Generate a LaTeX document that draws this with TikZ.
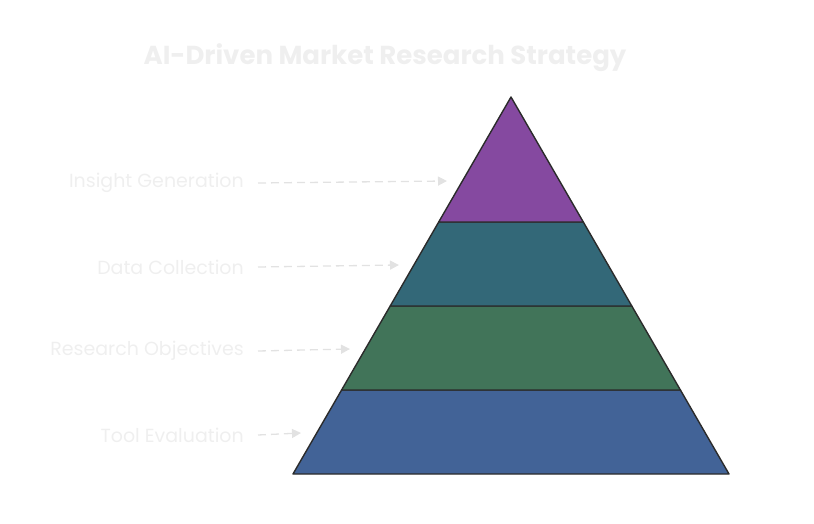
\documentclass[tikz,border=0pt]{standalone}
\usepackage{fontspec}
\setmainfont{Poppins}
\usetikzlibrary{arrows.meta}
\definecolor{faint-text}{HTML}{EFEFEF}
\definecolor{faint-line}{HTML}{E2E2E2}
\definecolor{edge-dark}{HTML}{2B2B2B}
\definecolor{tier-top}{HTML}{8549A0}
\definecolor{tier-two}{HTML}{336878}
\definecolor{tier-three}{HTML}{417459}
\definecolor{tier-base}{HTML}{426397}

\begin{document}
\begin{tikzpicture}[x=1pt, y=-1pt,
      every node/.style={font=\fontsize{19}{22}\selectfont, text=faint-text},
      tierlabel/.style={anchor=east, inner sep=0pt},
      tier/.style={draw=edge-dark, line width=1.4pt, line join=round},
      pointer/.style={draw=faint-line, line width=1.3pt, dash pattern=on 8pt off 5pt,
                      -{Triangle[length=9pt, width=9pt]}}]
    \useasboundingbox (0,0) rectangle (814,524);
    % title
    \node[font=\fontsize{26}{30}\selectfont\bfseries] (title) at (385,58)
          {AI-Driven Market Research Strategy};
    % pyramid tiers
    \draw[tier, fill=tier-base]  (293,474) -- (341.6,390) -- (680.4,390) -- (729,474) -- cycle;
    \draw[tier, fill=tier-three] (341.6,390) -- (390.2,306) -- (631.8,306) -- (680.4,390) -- cycle;
    \draw[tier, fill=tier-two]   (390.2,306) -- (438.7,222) -- (583.3,222) -- (631.8,306) -- cycle;
    \draw[tier, fill=tier-top]   (438.7,222) -- (511,97) -- (583.3,222) -- cycle;
    % arrow targets
    \coordinate (insight-tip)   at (447,181);
    \coordinate (data-tip)      at (399,265);
    \coordinate (research-tip)  at (350,349);
    \coordinate (tool-tip)      at (301,433);
    % labels
    \node[tierlabel] (insight)  at (244,183) {Insight Generation};
    \node[tierlabel] (data)     at (244,267) {Data Collection};
    \node[tierlabel] (research) at (244,351) {Research Objectives};
    \node[tierlabel] (tool)     at (244,435) {Tool Evaluation};
    \draw[pointer] ([xshift=14pt]insight.east)  -- (insight-tip);
    \draw[pointer] ([xshift=14pt]data.east)     -- (data-tip);
    \draw[pointer] ([xshift=14pt]research.east) -- (research-tip);
    \draw[pointer] ([xshift=14pt]tool.east)     -- (tool-tip);
  \end{tikzpicture}
\end{document}
